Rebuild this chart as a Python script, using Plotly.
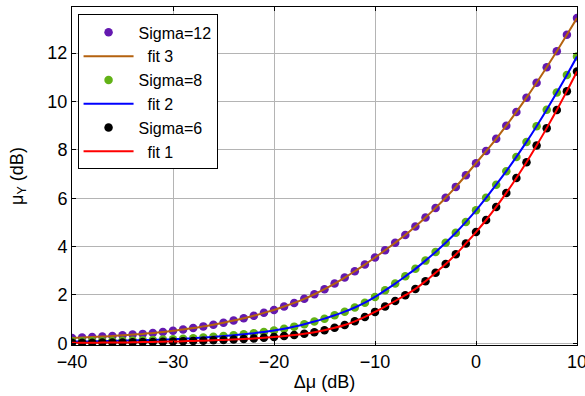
import plotly.graph_objects as go

# Delta mu (dB)
dmu = [-40, -39, -38, -37, -36, -35, -34, -33, -32, -31,
       -30, -29, -28, -27, -26, -25, -24, -23, -22, -21,
       -20, -19, -18, -17, -16, -15, -14, -13, -12, -11,
       -10, -9, -8, -7, -6, -5, -4, -3, -2, -1,
       0, 1, 2, 3, 4, 5, 6, 7, 8, 9, 10]

# mu_Y (dB), sigma = 12
sigma12 = [0.22, 0.24, 0.26, 0.28, 0.30, 0.33, 0.36, 0.39, 0.43, 0.47,
           0.52, 0.57, 0.63, 0.70, 0.77, 0.85, 0.94, 1.04, 1.14, 1.26,
           1.38, 1.52, 1.67, 1.84, 2.03, 2.24, 2.47, 2.72, 2.98, 3.26,
           3.55, 3.85, 4.16, 4.48, 4.83, 5.20, 5.60, 6.02, 6.47, 6.95,
           7.45, 7.95, 8.46, 9.00, 9.57, 10.16, 10.78, 11.42, 12.08, 12.76, 13.45]

# mu_Y (dB), sigma = 8
sigma8 = [0.07, 0.075, 0.08, 0.09, 0.10, 0.11, 0.12, 0.13, 0.14, 0.155,
          0.17, 0.19, 0.21, 0.24, 0.27, 0.30, 0.33, 0.37, 0.42, 0.47,
          0.53, 0.60, 0.69, 0.79, 0.90, 1.02, 1.16, 1.31, 1.48, 1.68,
          1.92, 2.19, 2.47, 2.77, 3.08, 3.42, 3.78, 4.16, 4.57, 5.02,
          5.50, 6.02, 6.56, 7.12, 7.71, 8.33, 8.98, 9.66, 10.37, 11.10, 11.86]

# mu_Y (dB), sigma = 6
sigma6 = [0.02, 0.02, 0.025, 0.03, 0.03, 0.035, 0.04, 0.05, 0.055, 0.065,
          0.075, 0.085, 0.10, 0.11, 0.125, 0.14, 0.16, 0.18, 0.20, 0.23,
          0.26, 0.30, 0.34, 0.40, 0.46, 0.54, 0.64, 0.76, 0.91, 1.09,
          1.30, 1.52, 1.75, 1.99, 2.25, 2.57, 2.92, 3.28, 3.68, 4.13,
          4.60, 5.10, 5.64, 6.22, 6.84, 7.49, 8.18, 8.90, 9.65, 10.43, 11.24]

x_ticks = [-40, -30, -20, -10, 0, 10]
y_ticks = [0, 2, 4, 6, 8, 10, 12]

FONT = "Arial, 'Liberation Sans', sans-serif"
NB = "\u00a0\u00a0"

series = [
    ("Sigma=12", NB + "fit 3", sigma12, "#6419b0", "#b4620f"),
    ("Sigma=8", NB + "fit 2", sigma8, "#62b216", "#0000ff"),
    ("Sigma=6", NB + "fit 1", sigma6, "#000000", "#ff0000"),
]

fig = go.Figure()
for dot_name, fit_name, vals, dot_col, fit_col in series:
    fig.add_trace(go.Scatter(
        x=dmu, y=vals, mode="markers", name=dot_name,
        marker=dict(color=dot_col, size=8.5, line=dict(width=0)),
    ))
    fig.add_trace(go.Scatter(
        x=dmu, y=vals, mode="lines", name=fit_name,
        line=dict(color=fit_col, width=2, shape="spline"),
    ))

axis_common = dict(
    showline=True, linecolor="black", linewidth=1, mirror="ticks",
    ticks="inside", ticklen=4, tickcolor="black",
    showgrid=True, gridcolor="#b4b4b4", gridwidth=1,
    zeroline=False,
    tickfont=dict(family=FONT, size=18, color="black"),
    ticklabeloverflow="allow",
)

fig.update_xaxes(
    range=[-40, 10], tickvals=x_ticks,
    title=dict(text="\u0394\u03bc (dB)", font=dict(family=FONT, size=18, color="black"), standoff=4),
    **axis_common,
)
fig.update_yaxes(
    range=[-0.07, 13.91], tickvals=y_ticks,
    title=dict(text="\u03bc<sub>Y</sub> (dB)", font=dict(family=FONT, size=18, color="black"), standoff=19),
    **axis_common,
)

fig.update_layout(
    width=585, height=396,
    margin=dict(l=72, r=8, t=7, b=51, autoexpand=False),
    paper_bgcolor="white", plot_bgcolor="white",
    showlegend=True,
    legend=dict(
        x=0.011, y=0.978, xanchor="left", yanchor="top",
        bgcolor="white", bordercolor="black", borderwidth=1,
        font=dict(family=FONT, size=16, color="black"),
        itemwidth=50, tracegroupgap=0,
    ),
)

fig.write_html("out.html", config={"displayModeBar": False},
               post_script="document.body.style.margin='0';")
